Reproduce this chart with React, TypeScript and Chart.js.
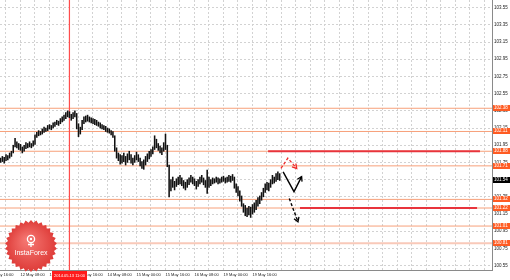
import React, { useEffect, useRef } from "react";
import { Chart, registerables } from "chart.js";

Chart.register(...registerables);

// ---------- data ----------
const firstBarIndex = -11; // bar index of the left-most bar (index 0 = 12 May 08:00, one bar per hour)
const barHighs = [
  101.80, 101.82, 101.81, 101.84, 101.83, 101.86, 101.88, 101.95, 102.03, 101.99, 101.97,
  101.96, 101.93, 101.95, 101.98, 101.97, 101.99, 101.97, 102.00, 102.07, 102.10,
  102.12, 102.11, 102.14, 102.16, 102.15, 102.18, 102.19, 102.18, 102.21, 102.22,
  102.24, 102.23, 102.26, 102.28, 102.30, 102.33, 102.35, 102.34, 102.31, 102.33,
  102.35, 102.32, 102.20, 102.16, 102.24, 102.28, 102.29, 102.30, 102.28, 102.27,
  102.26, 102.25, 102.24, 102.22, 102.21, 102.19, 102.18, 102.17, 102.15, 102.14,
  102.12, 102.11, 102.06, 101.92, 101.86, 101.84, 101.83, 101.86, 101.82, 101.85,
  101.88, 101.84, 101.80, 101.83, 101.87, 101.84, 101.80, 101.76, 101.78, 101.82,
  101.85, 101.88, 101.90, 101.93, 102.06, 102.02, 101.97, 101.94, 101.92, 101.98,
  102.08, 101.95, 101.72, 101.55, 101.58, 101.53, 101.56, 101.58, 101.60, 101.57,
  101.54, 101.52, 101.55, 101.57, 101.60, 101.58, 101.56, 101.53, 101.55, 101.58,
  101.60, 101.57, 101.54, 101.66, 101.58, 101.55, 101.57, 101.56, 101.58, 101.57,
  101.56, 101.58, 101.59, 101.57, 101.58, 101.60, 101.59, 101.61, 101.58, 101.50,
  101.47, 101.42, 101.36, 101.27, 101.25, 101.22, 101.24, 101.23, 101.26, 101.28,
  101.31, 101.34, 101.36, 101.40, 101.45, 101.50, 101.52, 101.51, 101.55, 101.60,
  101.58, 101.62, 101.64, 101.62,
];
const barLows = [
  101.75, 101.76, 101.74, 101.77, 101.78, 101.80, 101.82, 101.86, 101.93, 101.92, 101.90,
  101.89, 101.86, 101.88, 101.91, 101.92, 101.93, 101.92, 101.94, 101.96, 102.04,
  102.06, 102.07, 102.08, 102.10, 102.11, 102.12, 102.14, 102.13, 102.15, 102.17,
  102.19, 102.18, 102.20, 102.22, 102.24, 102.26, 102.28, 102.27, 102.24, 102.26,
  102.28, 102.14, 102.05, 102.08, 102.13, 102.20, 102.22, 102.23, 102.22, 102.21,
  102.20, 102.19, 102.18, 102.17, 102.15, 102.14, 102.13, 102.11, 102.10, 102.09,
  102.07, 102.04, 101.88, 101.80, 101.77, 101.73, 101.74, 101.76, 101.72, 101.75,
  101.78, 101.74, 101.72, 101.75, 101.78, 101.76, 101.71, 101.68, 101.67, 101.72,
  101.76, 101.79, 101.82, 101.85, 101.90, 101.92, 101.89, 101.86, 101.84, 101.88,
  101.90, 101.70, 101.35, 101.42, 101.46, 101.43, 101.47, 101.49, 101.50, 101.48,
  101.45, 101.43, 101.46, 101.49, 101.52, 101.50, 101.48, 101.44, 101.47, 101.50,
  101.52, 101.49, 101.46, 101.39, 101.46, 101.48, 101.50, 101.51, 101.52, 101.50,
  101.51, 101.52, 101.53, 101.51, 101.52, 101.53, 101.52, 101.54, 101.45, 101.40,
  101.36, 101.30, 101.24, 101.17, 101.13, 101.12, 101.14, 101.11, 101.15, 101.17,
  101.20, 101.24, 101.27, 101.31, 101.35, 101.40, 101.43, 101.42, 101.46, 101.50,
  101.51, 101.53, 101.55, 101.54,
];

const priceTicks = [
  100.55, 100.75, 100.95, 101.15, 101.35, 101.55, 101.75, 101.95,
  102.15, 102.35, 102.55, 102.75, 102.95, 103.15, 103.35, 103.55,
];
const gridBarIndices = [
  -16, -8, 0, 8, 16, 24, 32, 40, 48, 56, 64, 72, 80, 88, 96, 104, 112, 120, 128,
  136, 144, 152, 160, 168, 176, 184, 192, 200, 208, 216, 224, 232, 240, 248, 256,
];
const timeLabelIndices = [-16, 0, 16, 32, 48, 64, 80, 96, 112, 128];
const timeLabels = [
  "9 May 16:00", "12 May 08:00", "13 May 00:00", "13 May 16:00", "14 May 08:00",
  "15 May 00:00", "15 May 16:00", "16 May 08:00", "19 May 00:00", "19 May 16:00",
];

const levelPrices = [102.38, 102.11, 101.88, 101.71, 101.32, 101.22, 101.01];
const paleLevelPrice = 100.81;
const currentPrice = 101.54;
const targetPrices = [101.88, 101.22];
const targetFrom = [136.6, 154.2];
const targetTo = [253.5, 251.9];
const crosshairIndex = 27;
const crosshairLabel = "2014.05.13 11:00";
const redScenarioX = [143.7, 147.5, 152.4];
const redScenarioY = [101.68, 101.8, 101.68];
const blackScenarioX = [144.9, 150.9, 155.1];
const blackScenarioY = [101.64, 101.41, 101.585];
const blackAltX = [148.3, 153.1];
const blackAltY = [101.33, 101.06];

// ---------- axis bounds ----------
const X_MIN = -11.31;
const X_MAX = 260.14;
const Y_MIN = 100.499;
const Y_MAX = 103.639;

// ---------- styles ----------
const FONT = "'Liberation Sans', Arial, sans-serif";
const ORANGE_LINE = "#f7a07a";
const PALE_LINE = "#f9c9b9";
const RED_LINE = "#e8343c";
const BOX_ORANGE = "#ff5b22";
const GRID = "#d2d2d2";

function drawArrowHead(ctx: CanvasRenderingContext2D, pts: any[], color: string) {
  if (!pts || pts.length < 2) return;
  const a = pts[pts.length - 2];
  const b = pts[pts.length - 1];
  const ang = Math.atan2(b.y - a.y, b.x - a.x);
  const L = 5;
  ctx.save();
  ctx.strokeStyle = color;
  ctx.lineWidth = 1.3;
  ctx.setLineDash([]);
  ctx.beginPath();
  ctx.moveTo(b.x - L * Math.cos(ang - 0.55), b.y - L * Math.sin(ang - 0.55));
  ctx.lineTo(b.x, b.y);
  ctx.lineTo(b.x - L * Math.cos(ang + 0.55), b.y - L * Math.sin(ang + 0.55));
  ctx.stroke();
  ctx.restore();
}

function drawBadge(ctx: CanvasRenderingContext2D, cx: number, cy: number) {
  const spikes = 30;
  const rO = 26;
  const rI = 23.5;
  ctx.save();
  ctx.beginPath();
  for (let k = 0; k < spikes * 2; k++) {
    const r = k % 2 === 0 ? rO : rI;
    const a = (Math.PI * k) / spikes - Math.PI / 2;
    const px = cx + r * Math.cos(a);
    const py = cy + r * Math.sin(a);
    if (k === 0) ctx.moveTo(px, py);
    else ctx.lineTo(px, py);
  }
  ctx.closePath();
  const g = ctx.createRadialGradient(cx - 4, cy - 6, 2, cx, cy, rO);
  g.addColorStop(0, "#f47570");
  g.addColorStop(1, "#de3b38");
  ctx.fillStyle = g;
  ctx.fill();
  // emblem
  ctx.strokeStyle = "#ffffff";
  ctx.fillStyle = "#ffffff";
  ctx.lineWidth = 1.3;
  ctx.beginPath();
  ctx.arc(cx, cy - 7, 3.6, 0, Math.PI * 2);
  ctx.stroke();
  ctx.beginPath();
  ctx.arc(cx, cy - 7, 1.2, 0, Math.PI * 2);
  ctx.fill();
  ctx.beginPath();
  ctx.moveTo(cx, cy - 3.5);
  ctx.lineTo(cx, cy + 1);
  ctx.moveTo(cx - 3, cy - 1.5);
  ctx.lineTo(cx + 3, cy - 1.5);
  ctx.stroke();
  ctx.font = `7px ${FONT}`;
  ctx.textAlign = "center";
  ctx.textBaseline = "middle";
  ctx.fillText("InstaForex", cx, cy + 7);
  ctx.restore();
}

const overlayPlugin = {
  id: "overlay",
  afterDatasetsDraw(chart: any) {
    const ctx = chart.ctx;
    chart.data.datasets.forEach((ds: any, i: number) => {
      if (!ds.arrowHead) return;
      const meta = chart.getDatasetMeta(i);
      drawArrowHead(ctx, meta.data, ds.borderColor);
    });
  },
  afterDraw(chart: any) {
    const ctx = chart.ctx;
    const ys = chart.scales.y;
    const xs = chart.scales.x;
    const area = chart.chartArea;
    ctx.save();
    ctx.font = `4.5px ${FONT}`;
    ctx.textBaseline = "middle";
    ctx.textAlign = "left";
    const box = (v: number, color: string) => {
      const y = ys.getPixelForValue(v);
      ctx.fillStyle = color;
      ctx.fillRect(area.right + 1, Math.round(y) - 3, 17, 6);
      ctx.fillStyle = "#ffffff";
      ctx.fillText(v.toFixed(2), area.right + 2, Math.round(y));
    };
    levelPrices.forEach((v) => box(v, BOX_ORANGE));
    box(paleLevelPrice, BOX_ORANGE);
    box(currentPrice, "#000000");

    // crosshair time label
    const cxp = xs.getPixelForValue(crosshairIndex);
    ctx.font = `4px ${FONT}`;
    const w = 35;
    ctx.fillStyle = "#ff1c1c";
    ctx.fillRect(Math.round(cxp - 17.5), area.bottom + 1, w, 9);
    ctx.fillStyle = "#ffffff";
    ctx.textAlign = "center";
    ctx.fillText(crosshairLabel, cxp, area.bottom + 5.5);
    ctx.restore();

    drawBadge(ctx, 31, 246);
  },
};

export default function App() {
  const canvasRef = useRef<HTMLCanvasElement | null>(null);

  useEffect(() => {
    const canvas = canvasRef.current;
    if (!canvas) return;

    const bars = barHighs.map((h, i) => ({ x: firstBarIndex + i, y: [barLows[i], h] }));
    const flat = (v: number, a: number, b: number) => [
      { x: a, y: v },
      { x: b, y: v },
    ];
    const pts = (xsArr: number[], ysArr: number[]) => xsArr.map((x, i) => ({ x, y: ysArr[i] }));

    const lineBase = {
      type: "line" as const,
      pointRadius: 0,
      tension: 0,
      fill: false,
    };

    const datasets: any[] = [];
    levelPrices.forEach((v) => {
      datasets.push({ ...lineBase, data: flat(v, X_MIN, X_MAX), borderColor: ORANGE_LINE, borderWidth: 1, order: 5 });
    });
    datasets.push({ ...lineBase, data: flat(paleLevelPrice, X_MIN, X_MAX), borderColor: PALE_LINE, borderWidth: 2, order: 5 });
    targetPrices.forEach((v, i) => {
      datasets.push({ ...lineBase, data: flat(v, targetFrom[i], targetTo[i]), borderColor: RED_LINE, borderWidth: 2, order: 4 });
    });
    datasets.push({
      ...lineBase,
      data: [
        { x: crosshairIndex, y: Y_MIN },
        { x: crosshairIndex, y: Y_MAX },
      ],
      borderColor: "#ff4d4d",
      backgroundColor: "#ff4d4d",
      borderWidth: 1.2,
      order: 3,
    });
    datasets.push({
      type: "bar",
      data: bars,
      backgroundColor: "#111111",
      borderWidth: 0,
      barThickness: 0.9,
      order: 2,
    });
    datasets.push({
      ...lineBase,
      data: pts(redScenarioX, redScenarioY),
      borderColor: "#ee2a2a",
      borderWidth: 1.3,
      borderDash: [3, 2],
      arrowHead: true,
      order: 1,
    });
    datasets.push({
      ...lineBase,
      data: pts(blackScenarioX, blackScenarioY),
      borderColor: "#000000",
      borderWidth: 1.4,
      arrowHead: true,
      order: 1,
    });
    datasets.push({
      ...lineBase,
      data: pts(blackAltX, blackAltY),
      borderColor: "#000000",
      borderWidth: 1.4,
      borderDash: [3, 2],
      arrowHead: true,
      order: 1,
    });

    const chart = new Chart(canvas, {
      type: "bar",
      data: { datasets },
      plugins: [overlayPlugin],
      options: {
        animation: false,
        responsive: false,
        events: [],
        layout: { padding: 0 },
        plugins: { legend: { display: false }, tooltip: { enabled: false } },
        scales: {
          x: {
            type: "linear",
            min: X_MIN,
            max: X_MAX,
            offset: false,
            afterBuildTicks: (s: any) => {
              s.ticks = gridBarIndices.map((v) => ({ value: v }));
            },
            afterFit: (s: any) => {
              s.height = 10;
              s.paddingLeft = 0;
              s.paddingRight = 0;
            },
            ticks: {
              autoSkip: false,
              maxRotation: 0,
              minRotation: 0,
              align: "start",
              padding: 2,
              color: "#222",
              font: { size: 4, family: FONT },
              callback: (v: any) => {
                const k = timeLabelIndices.indexOf(Number(v));
                return k >= 0 ? timeLabels[k] : "";
              },
            },
            grid: { color: GRID, offset: false, drawTicks: false, lineWidth: 1 },
            border: { display: true, color: "#8a8a8a", dash: [2, 2], width: 1 },
          },
          y: {
            type: "linear",
            position: "right",
            min: Y_MIN,
            max: Y_MAX,
            beginAtZero: false,
            afterBuildTicks: (s: any) => {
              s.ticks = priceTicks.map((v) => ({ value: v }));
            },
            afterFit: (s: any) => {
              s.width = 18;
              s.paddingTop = 0;
              s.paddingBottom = 0;
            },
            ticks: {
              autoSkip: false,
              padding: 2,
              color: "#222",
              font: { size: 4.5, family: FONT },
              callback: (v: any) => Number(v).toFixed(2),
            },
            grid: { color: GRID, drawTicks: false, lineWidth: 1 },
            border: { display: true, color: "#8a8a8a", dash: [2, 2], width: 1 },
          },
        },
      } as any,
    });

    return () => chart.destroy();
  }, []);

  return (
    <div style={{ position: "fixed", left: 0, top: 0, width: 510, height: 280, background: "#ffffff" }}>
      <canvas ref={canvasRef} width={510} height={280} style={{ display: "block" }} />
    </div>
  );
}
